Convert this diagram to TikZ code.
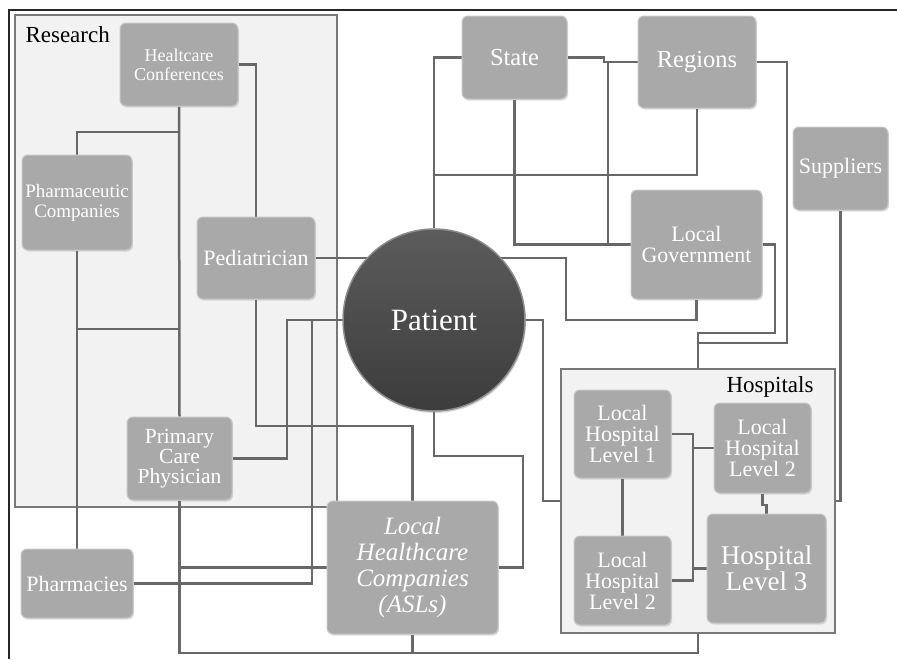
\documentclass[tikz,border=0pt]{standalone}
\usepackage{fontspec}
\setmainfont{Liberation Serif}
\newfontfamily\tms{Liberation Serif}
\usetikzlibrary{shadows}
\definecolor{boxgray}{HTML}{A9A9A9}
\definecolor{boxedge}{HTML}{C6C6C6}
\definecolor{linegray}{HTML}{686868}
\definecolor{panel}{HTML}{F2F2F2}
\definecolor{paneledge}{HTML}{787878}
\definecolor{pattop}{HTML}{5C5C5C}
\definecolor{patbot}{HTML}{3C3C3C}
\definecolor{patedge}{HTML}{8C8C8C}
\newcommand{\myfs}[2]{\tms\fontsize{#1pt}{#2pt}\selectfont}
\pgfdeclarelayer{back}
\pgfdeclarelayer{wires}
\pgfsetlayers{back,wires,main}
\begin{document}
\begin{tikzpicture}[x=1pt,y=-1pt,
  box/.style={rounded corners=6pt, fill=boxgray, draw=boxedge, line width=1pt,
    text=white, align=center, inner sep=0pt,
    drop shadow={opacity=0.25, shadow xshift=1pt, shadow yshift=-1.5pt}},
  wire/.style={draw=linegray, line width=2.5pt},
  panelbox/.style={fill=panel, draw=paneledge, line width=2pt, inner sep=0pt}]
\useasboundingbox (0,0) rectangle (897,659);
\draw[line width=1.5pt, color=black!85] (897,10) -- (9,10) -- (9,659);

\begin{pgfonlayer}{back}
\node[panelbox, minimum width=322pt, minimum height=492pt] (research) at (176,261) {};
\node[panelbox, minimum width=274pt, minimum height=264pt] (hospbox) at (698,501) {};
\end{pgfonlayer}

\node[anchor=base west, font=\myfs{23}{23}] (reslabel) at (22,42) {Research};
\node[anchor=base east, font=\myfs{23}{23}] (hosplabel) at (817,392) {Hospitals};

% nodes
\node[box, minimum width=118pt, minimum height=83pt, font=\myfs{18}{19}] (hc) at (179,64.5) {Healtcare\\Conferences};
\node[box, minimum width=110pt, minimum height=95pt, font=\myfs{19}{20}] (pharma) at (77,202.5) {Pharmaceutic\\Companies};
\node[box, minimum width=118pt, minimum height=82pt, font=\myfs{22}{22}] (ped) at (256,258) {Pediatrician};
\node[box, minimum width=105pt, minimum height=83pt, font=\myfs{21.5}{20}] (pcp) at (179.5,458.5) {Primary\\Care\\Physician};
\node[box, minimum width=112pt, minimum height=69pt, font=\myfs{22}{22}] (phc) at (77,583.5) {Pharmacies};
\node[box, minimum width=171pt, minimum height=133pt, font=\myfs{25}{26}\itshape] (asl) at (412.5,567.5) {Local\\Healthcare\\Companies\\(ASLs)};
\node[box, minimum width=105pt, minimum height=83pt, font=\myfs{24.5}{24.5}] (state) at (514.5,57.5) {State};
\node[box, minimum width=118pt, minimum height=92pt, font=\myfs{24.5}{24.5}] (reg) at (697,62) {Regions};
\node[box, minimum width=95pt, minimum height=83pt, font=\myfs{22}{22}] (sup) at (840.5,168.5) {Suppliers};
\node[box, minimum width=131pt, minimum height=109pt, font=\myfs{22}{21}] (lg) at (696.5,244.5) {Local\\Government};
\node[box, minimum width=97pt, minimum height=88pt, font=\myfs{22}{21}] (h1) at (622.5,434) {Local\\Hospital\\Level 1};
\node[box, minimum width=97pt, minimum height=90pt, font=\myfs{22}{21}] (h2u) at (762.5,448) {Local\\Hospital\\Level 2};
\node[box, minimum width=97pt, minimum height=89pt, font=\myfs{22}{21}] (h2l) at (622.5,580.5) {Local\\Hospital\\Level 2};
\node[box, minimum width=119pt, minimum height=109pt, font=\myfs{27}{26}] (hl3) at (766.5,568.5) {Hospital\\Level 3};
\node[circle, minimum size=182pt, inner sep=0pt, shading=axis, top color=pattop, bottom color=patbot,
  draw=patedge, line width=1.5pt, text=white, font=\myfs{31}{31},
  drop shadow={opacity=0.3, shadow xshift=1pt, shadow yshift=-2pt}] (pat) at (434,320) {Patient};

% connectors
\begin{pgfonlayer}{wires}
\draw[wire] (hc.east) -| (ped.north);
\draw[wire] (hc.south) -- (pcp.north);
\draw[wire] (hc.south |- 0,132) -| (pharma.north);
\draw[wire] (pharma.south) -- (phc.north);
\draw[wire] (pharma.south |- 0,329) -- (pcp.north |- 0,329);
\draw[wire] (ped.east) -- (pat.center |- ped.east);
\draw[wire] (ped.south) |- (asl.north |- 0,426) -- (asl.north);
\draw[wire] (pat.center) -- (287,320) |- (pcp.east);
\draw[wire] (pat.center) -- (312,320) |- (phc.east);
\draw[wire] (pcp.south) |- (asl.west);
\draw[wire] (pcp.south) |- (hospbox.south |- 0,653) -- (hospbox.south);
\draw[wire] (asl.south) -- (asl.south |- 0,653);
\draw[wire] (pat.south) |- (523,456) |- (asl.east);
\draw[wire] (pat.center) -- (543,320) |- (hospbox.west);
\draw[wire] (sup.south) |- (hospbox.east);
\draw[wire] (state.west) -| (pat.north);
\draw[wire] (reg.south) |- (pat.north |- 0,175);
\draw[wire] (state.east) -| (604,62) -- (reg.west);
\draw[wire] (608,62) |- (lg.west);
\draw[wire] (state.south) |- (lg.west);
\draw[wire] (pat.center |- 0,258) -| (566,320) -| (lg.south);
\draw[wire] (lg.east) -| (775,333) -| (hospbox.north);
\draw[wire] (reg.east) -| (787,343) -| (hospbox.north);
\draw[wire] (h1.east) -| (693,448) -- (h2u.west);
\draw[wire] (693,448) -- (693,580.5);
\draw[wire] (h2l.east) -- (693,580.5) |- (hl3.west);
\draw[wire] (h1.south) -- (h2l.north);
\draw[wire] (h2u.south) |- (766.5,505) -- (hl3.north);
\end{pgfonlayer}
\end{tikzpicture}
\end{document}
